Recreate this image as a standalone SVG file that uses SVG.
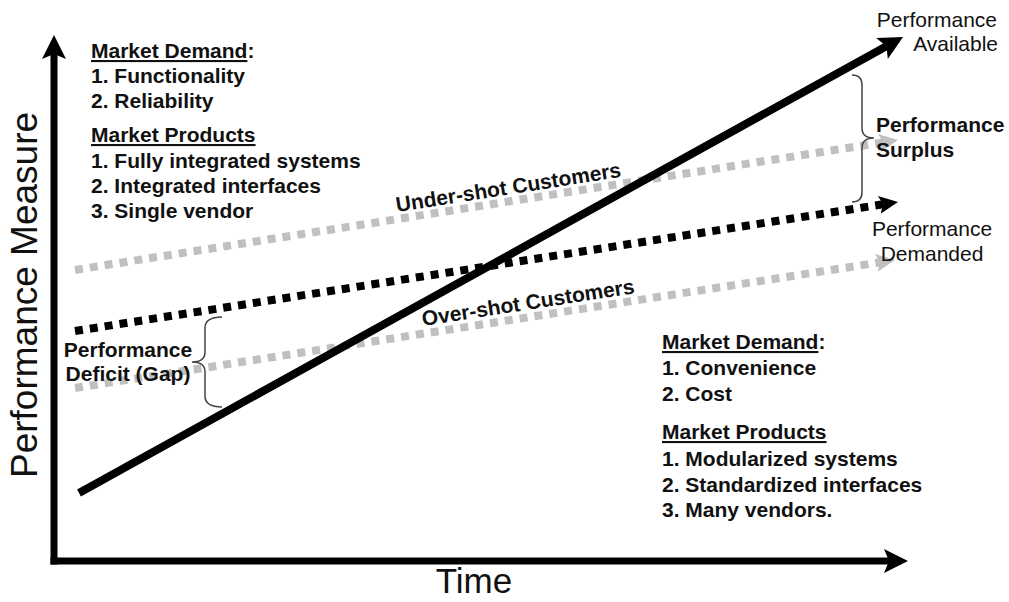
<svg xmlns="http://www.w3.org/2000/svg" width="1009" height="602" viewBox="0 0 1009 602">
  <style>
    text { font-family: "Liberation Sans", Arial, Helvetica, sans-serif; fill: #111; }
    .b { font-weight: bold; font-size: 21px; }
    .r { font-size: 21px; }
    .u { text-decoration: underline; }
    .axis { stroke: #000; stroke-width: 7; fill: none; }
    .avail { stroke: #000; stroke-width: 8; fill: none; }
    .dem { stroke: #000; stroke-width: 8; stroke-dasharray: 8 7; fill: none; }
    .cust { stroke: #c0c0c0; stroke-width: 8; stroke-dasharray: 8 7; fill: none; }
    .brace { stroke: #444; stroke-width: 1.5; fill: none; }
  </style>
  <defs>
    <marker id="headBig" viewBox="0 -13 26 26" refX="5" refY="0" markerWidth="26" markerHeight="26" markerUnits="userSpaceOnUse" orient="auto">
      <path d="M0,-12 L24,0 L0,12 L5,0 Z" fill="#000"/>
    </marker>
    <marker id="headDark" viewBox="0 -10 20 20" refX="4" refY="0" markerWidth="20" markerHeight="20" markerUnits="userSpaceOnUse" orient="auto">
      <path d="M0,-9 L19,0 L0,9 L4,0 Z" fill="#000"/>
    </marker>
    <marker id="headGray" viewBox="0 -10 20 20" refX="4" refY="0" markerWidth="20" markerHeight="20" markerUnits="userSpaceOnUse" orient="auto">
      <path d="M0,-9 L19,0 L0,9 L4,0 Z" fill="#c0c0c0"/>
    </marker>
  </defs>
  <rect width="1009" height="602" fill="#fff"/>

  <!-- chart lines -->
  <g id="connectors">
    <path class="axis" d="M54,564.5 L54,54" marker-end="url(#headBig)"/>
    <path class="axis" d="M50.5,561 L889,561" marker-end="url(#headBig)"/>
    <path class="cust" d="M75,270 L883.2,142.3" marker-end="url(#headGray)"/>
    <path class="cust" d="M75,388 L880.2,262.3" marker-end="url(#headGray)"/>
    <path class="dem" d="M75,331 L883.2,204.3" marker-end="url(#headDark)"/>
    <path class="avail" d="M79,493 L886.4,46.2" marker-end="url(#headBig)"/>
  </g>

  <g id="surplus-brace">
    <path class="brace" d="M852,75 Q862,75 862,85 L862,128 Q862,138 874,138 Q862,138 862,148 L862,192 Q862,202 852,202"/>
    <text class="b" x="876" y="132">Performance</text>
    <text class="b" x="876" y="157">Surplus</text>
  </g>

  <g id="deficit-brace">
    <path class="brace" d="M222,317 Q205,317 205,328 L205,352 Q205,362 192,362 Q205,362 205,372 L205,396 Q205,407 222,407"/>
    <text class="b" x="128" y="357" text-anchor="middle">Performance</text>
    <text class="b" x="128" y="381" text-anchor="middle">Deficit (Gap)</text>
  </g>

  <g id="label-available">
    <text class="r" x="997" y="27" text-anchor="end">Performance</text>
    <text class="r" x="998" y="51" text-anchor="end">Available</text>
  </g>

  <g id="label-demanded">
    <text class="r" x="932" y="236" text-anchor="middle">Performance</text>
    <text class="r" x="932" y="261" text-anchor="middle">Demanded</text>
  </g>

  <g id="label-undershot">
    <text class="b" transform="translate(397,212) rotate(-8.9)">Under-shot Customers</text>
  </g>
  <g id="label-overshot">
    <text class="b" transform="translate(423,326) rotate(-8.8)">Over-shot Customers</text>
  </g>

  <g id="early-market">
    <text class="b" x="91" y="58"><tspan class="u">Market Demand</tspan>:</text>
    <text class="b" x="91" y="83">1. Functionality</text>
    <text class="b" x="91" y="108">2. Reliability</text>
    <text class="b" x="91" y="142"><tspan class="u">Market Products</tspan></text>
    <text class="b" x="91" y="168">1. Fully integrated systems</text>
    <text class="b" x="91" y="193">2. Integrated interfaces</text>
    <text class="b" x="91" y="218">3. Single vendor</text>
  </g>

  <g id="late-market">
    <text class="b" x="662" y="349"><tspan class="u">Market Demand</tspan>:</text>
    <text class="b" x="662" y="375">1. Convenience</text>
    <text class="b" x="662" y="401">2. Cost</text>
    <text class="b" x="662" y="439"><tspan class="u">Market Products</tspan></text>
    <text class="b" x="662" y="466">1. Modularized systems</text>
    <text class="b" x="662" y="492">2. Standardized interfaces</text>
    <text class="b" x="662" y="517">3. Many vendors.</text>
  </g>

  <g id="axis-titles">
    <text x="474" y="593" font-size="35" text-anchor="middle">Time</text>
    <text transform="translate(37,295) rotate(-90)" font-size="37" text-anchor="middle">Performance Measure</text>
  </g>
</svg>
